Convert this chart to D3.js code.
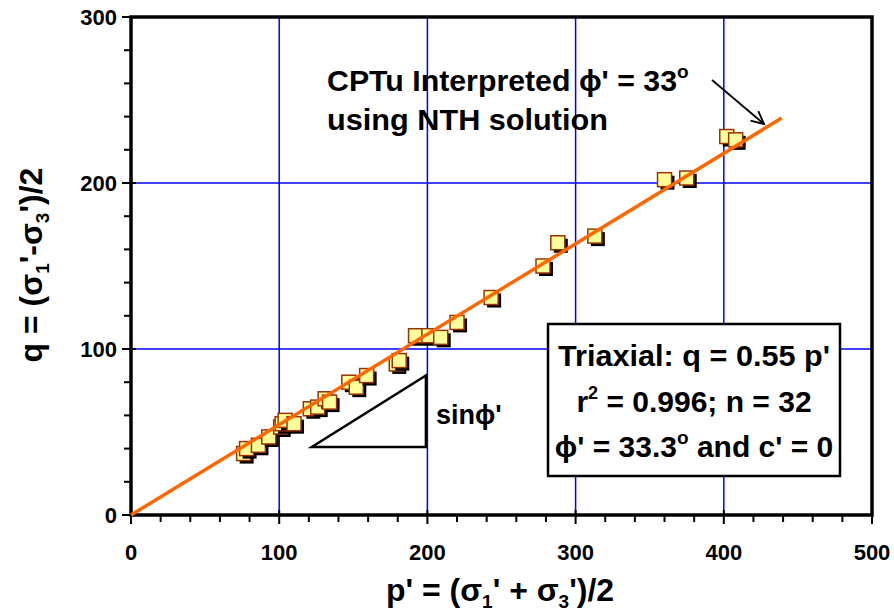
<!DOCTYPE html>
<html><head><meta charset="utf-8">
<script src="https://cdn.jsdelivr.net/npm/d3@7"></script>
<style>body{margin:0;background:#fff}svg{display:block}text{font-family:"Liberation Sans",Arial,sans-serif;font-weight:bold;fill:#000}</style>
</head><body><svg id="c" width="894" height="613"></svg>
<script>
const pValues = [76,78,86,93,101,102,104,110,121,126,131,134,147,152,159,179,181,192,201,209,220,243,278,288,313,360,375,402,408];
const qValues = [37,40,42,47,53,55,57,55,64,65,70,68,80,77,84,91,93,108,108,107,116,131,150,164,168,202,203,228,226];
const xTicks = [0,100,200,300,400,500];
const yTicks = [0,100,200,300];
const fitSlope = Math.sin(33*Math.PI/180);
const fitEnd = 439;
const triangle = [[122,41],[199,41],[199,84]];

const svg = d3.select("#c");
const L=131,R=872,T=17,B=515;
const x = d3.scaleLinear().domain([0,500]).range([L,R]);
const y = d3.scaleLinear().domain([0,300]).range([B,T]);

// grid
svg.append("g").selectAll("line").data([100,200,300,400]).join("line")
  .attr("x1",d=>x(d)).attr("x2",d=>x(d)).attr("y1",T).attr("y2",B)
  .attr("stroke","#0000ff").attr("stroke-width",1.5);
svg.append("g").selectAll("line").data([100,200]).join("line")
  .attr("x1",L).attr("x2",R).attr("y1",d=>y(d)).attr("y2",d=>y(d))
  .attr("stroke","#0000ff").attr("stroke-width",1.5);

// ticks
svg.append("g").selectAll("line").data(d3.range(0,501,20)).join("line")
  .attr("x1",d=>x(d)).attr("x2",d=>x(d)).attr("y1",B).attr("y2",d=>B+(d%100===0?9:7))
  .attr("stroke","#000").attr("stroke-width",2);
svg.append("g").selectAll("line").data(d3.range(0,301,20)).join("line")
  .attr("y1",d=>y(d)).attr("y2",d=>y(d)).attr("x1",L).attr("x2",d=>L-(d%100===0?9:7))
  .attr("stroke","#000").attr("stroke-width",2);
svg.append("g").selectAll("line").data(yTicks).join("line")
  .attr("y1",d=>y(d)).attr("y2",d=>y(d)).attr("x1",L).attr("x2",L+5)
  .attr("stroke","#000").attr("stroke-width",2);
svg.append("g").selectAll("line").data(xTicks).join("line")
  .attr("x1",d=>x(d)).attr("x2",d=>x(d)).attr("y1",B).attr("y2",B-5)
  .attr("stroke","#000").attr("stroke-width",2);

// frame
svg.append("rect").attr("x",L).attr("y",T).attr("width",R-L).attr("height",B-T)
  .attr("fill","none").attr("stroke","#000").attr("stroke-width",3.5);

// tick labels
svg.append("g").selectAll("text").data(yTicks).join("text")
  .attr("x",L-14).attr("y",d=>y(d)+8).attr("text-anchor","end").attr("font-size",22).text(d=>d);
svg.append("g").selectAll("text").data(xTicks).join("text")
  .attr("x",d=>x(d)).attr("y",B+45).attr("text-anchor","middle").attr("font-size",22).text(d=>d);

// triangle
svg.append("path").attr("d",d3.line().x(d=>x(d[0])).y(d=>y(d[1]))(triangle)+"Z")
  .attr("fill","none").attr("stroke","#000").attr("stroke-width",2.5).attr("stroke-linejoin","miter");
svg.append("text").attr("x",x(triangle[1][0])+10).attr("y",y(55)).attr("font-size",27).text("sinϕ'");

// markers
const pts = pValues.map((p,i)=>[p,qValues[i]]);
const s=14;
const g = svg.append("g").selectAll("g").data(pts).join("g");
g.append("rect").attr("x",d=>x(d[0])-s/2+3).attr("y",d=>y(d[1])-s/2+3).attr("width",s).attr("height",s).attr("fill","#000");
g.append("rect").attr("x",d=>x(d[0])-s/2).attr("y",d=>y(d[1])-s/2).attr("width",s).attr("height",s)
  .attr("fill","#ffff99").attr("stroke","#993300").attr("stroke-width",1.5);

// fit line
svg.append("line").attr("x1",x(0)).attr("y1",y(0)).attr("x2",x(fitEnd)).attr("y2",y(fitSlope*fitEnd))
  .attr("stroke","#ff6600").attr("stroke-width",3.5);

// annotation
const ann = svg.append("text").attr("x",327).attr("y",91).attr("font-size",30);
ann.append("tspan").attr("textLength",350).attr("lengthAdjust","spacingAndGlyphs").text("CPTu Interpreted ϕ' = 33");
ann.append("tspan").attr("dy",-13).attr("font-size",19).text("o");
svg.append("text").attr("x",327).attr("y",130).attr("font-size",30).attr("textLength",281).attr("lengthAdjust","spacingAndGlyphs").text("using NTH solution");
// arrow
const ax1=712, ay1=80, ax2=764, ay2=124;
svg.append("line").attr("x1",ax1).attr("y1",ay1).attr("x2",ax2).attr("y2",ay2).attr("stroke","#000").attr("stroke-width",1.8);
const ang=Math.atan2(ay2-ay1,ax2-ax1), hl=14;
svg.append("path").attr("d",`M${ax2-hl*Math.cos(ang-0.45)},${ay2-hl*Math.sin(ang-0.45)}L${ax2},${ay2}L${ax2-hl*Math.cos(ang+0.45)},${ay2-hl*Math.sin(ang+0.45)}`)
  .attr("fill","none").attr("stroke","#000").attr("stroke-width",1.8);

// box
svg.append("rect").attr("x",548).attr("y",324).attr("width",292).attr("height",152)
  .attr("fill","#fff").attr("stroke","#000").attr("stroke-width",2.5);
const bx=694;
svg.append("text").attr("x",558).attr("y",366).attr("font-size",30).attr("textLength",272).attr("lengthAdjust","spacingAndGlyphs").text("Triaxial: q = 0.55 p'");
const l2 = svg.append("text").attr("x",bx).attr("y",412).attr("text-anchor","middle").attr("font-size",30);
l2.append("tspan").text("r");
l2.append("tspan").attr("dy",-13).attr("font-size",18).text("2");
l2.append("tspan").attr("dy",13).text(" = 0.996; n = 32");
const l3 = svg.append("text").attr("x",bx).attr("y",457).attr("text-anchor","middle").attr("font-size",30);
l3.append("tspan").text("ϕ' = 33.3");
l3.append("tspan").attr("dy",-13).attr("font-size",19).text("o");
l3.append("tspan").attr("dy",13).text(" and c' = 0");

// axis titles
const xt = svg.append("text").attr("x",500).attr("y",601).attr("text-anchor","middle").attr("font-size",32);
xt.append("tspan").text("p' = (σ");
xt.append("tspan").attr("dy",7).attr("font-size",19).text("1");
xt.append("tspan").attr("dy",-7).text("' + σ");
xt.append("tspan").attr("dy",7).attr("font-size",19).text("3");
xt.append("tspan").attr("dy",-7).text("')/2");

const yt = svg.append("text").attr("transform","translate(42,265) rotate(-90)").attr("text-anchor","middle").attr("font-size",32);
yt.append("tspan").text("q = (σ");
yt.append("tspan").attr("dy",7).attr("font-size",19).text("1");
yt.append("tspan").attr("dy",-7).text("'-σ");
yt.append("tspan").attr("dy",7).attr("font-size",19).text("3");
yt.append("tspan").attr("dy",-7).text("')/2");
</script></body></html>
